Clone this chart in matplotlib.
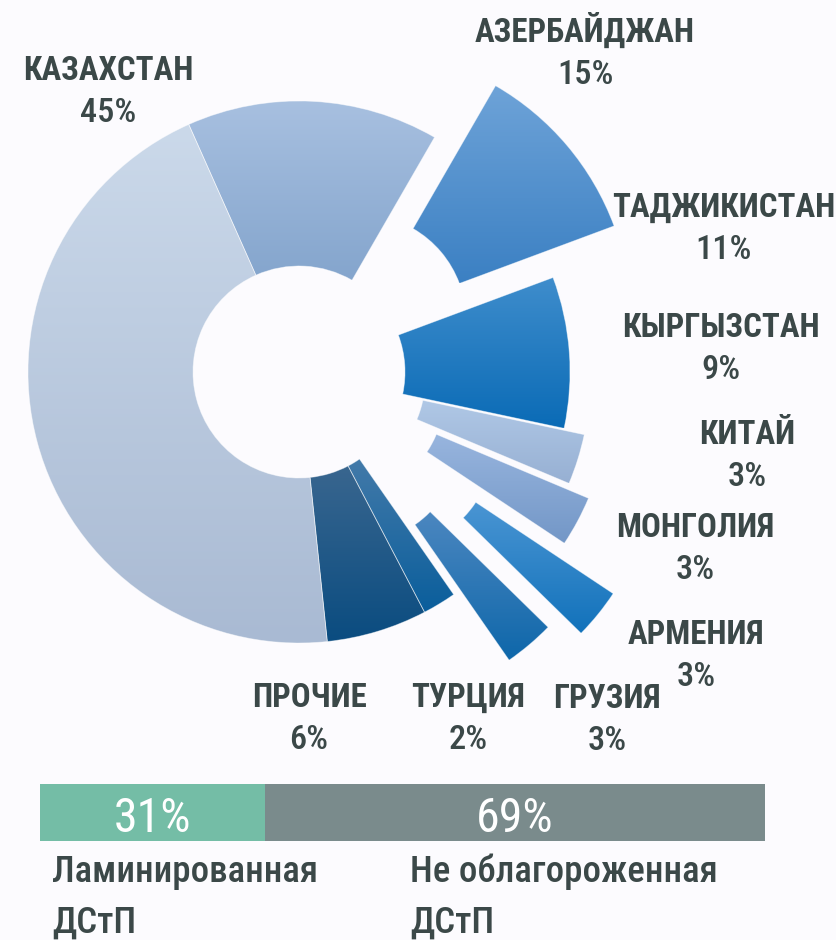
import numpy as np
import matplotlib
matplotlib.use('Agg')
import matplotlib.pyplot as plt
from matplotlib import font_manager
from matplotlib.font_manager import FontProperties
from matplotlib.ft2font import FT2Font
from matplotlib.textpath import TextPath
from matplotlib.colors import to_rgb

W, H = 836, 940          # output size, px
BG = '#fcfbfe'
TXT = '#3b4848'

# pie data, clockwise from the Azerbaijan slice
countries = ['АЗЕРБАЙДЖАН', 'ТАДЖИКИСТАН', 'КЫРГЫЗСТАН', 'КИТАЙ', 'МОНГОЛИЯ',
             'АРМЕНИЯ', 'ГРУЗИЯ', 'ТУРЦИЯ', 'ПРОЧИЕ', 'КАЗАХСТАН']
shares = [15, 11, 9, 3, 3, 3, 3, 2, 6, 45]
explode = [0, 0.295, 0, 0.078, 0.166, 0.42, 0.317, 0, 0, 0]
top_colors = ['#a8c0e0', '#6ea3d8', '#3f8dcc', '#b0c8e6', '#98b5de',
              '#4a95d3', '#4c87c0', '#437aa9', '#39668f', '#cbd9ea']
bottom_colors = ['#84a5cd', '#3b80c3', '#0a6bb6', '#97b0d3', '#7397c7',
                 '#1272bb', '#0e67aa', '#0a5e9c', '#0a4c80', '#a9bad3']
# label anchors: centre x, baseline y of the name (px from top-left)
label_xy = [(585, 42), (724, 217), (721, 337), (747, 444), (695, 537),
            (696, 644), (607, 708), (468, 707), (309, 707), (108, 80)]

# board types bar
board_types = ['Ламинированная\nДСтП', 'Не облагороженная\nДСтП']
board_shares = [31, 69]
board_colors = ['#74bda6', '#7a8b8c']
board_label_x = [52, 410]


# --- font: the reference uses a narrow face, find the closest installed one
SKIP = ('Mono', 'Serif', 'CJK', 'Math', 'Symbol', 'Emoji', 'Display')


def shape(fname):
	ext = TextPath((0, 0), 'КАЗАХСТАН', size=100, prop=FontProperties(fname=fname)).get_extents()
	return ext.width / ext.height, ext.height / 100


def has_cyrillic(fname):
	try:
		return FT2Font(fname).get_char_index(ord('Ж')) != 0
	except Exception:
		return False


def weight_of(f):
	return int(font_manager.weight_dict.get(f.weight, f.weight))


faces = [f for f in font_manager.fontManager.ttflist
         if f.style == 'normal' and not any(s in f.name for s in SKIP)
         and f.fname.lower().endswith(('.ttf', '.otf'))]
best = None
for f in faces:
	if weight_of(f) < 600 or not has_cyrillic(f.fname):
		continue
	ratio, cap = shape(f.fname)
	d = abs(ratio - 6.95)        # КАЗАХСТАН: 162 px wide, 23 px caps
	if best is None or d < best[0]:
		best = (d, f)
family = [f for f in faces if f.name == best[1].name]
FACE = {wt: min(family, key=lambda f: abs(weight_of(f) - wt)).fname
        for wt in (400, 500, 700)}
CAP = {fn: shape(fn)[1] for fn in set(FACE.values())}


def fp(cap_px, weight=500):
	fname = FACE[weight]
	return FontProperties(fname=fname, size=cap_px * 0.72 / CAP[fname])


def px(x, y):
	return x / W, 1 - y / H


fig = plt.figure(figsize=(W / 100, H / 100), dpi=100, facecolor=BG)
ax = fig.add_axes([0, 0, 1, 1])
ax.set_facecolor(BG)

cx, cy, R = 299, 372, 271   # pie centre and outer radius in px
wedges, _ = ax.pie(shares, explode=explode, startangle=114, counterclock=False,
                   radius=1, wedgeprops=dict(width=165 / R, linewidth=0))

# vertical gradient in every slice
for w, c_top, c_bot in zip(wedges, top_colors, bottom_colors):
	ext = w.get_path().get_extents()
	grad = np.linspace(to_rgb(c_bot), to_rgb(c_top), 256)[:, None, :]
	im = ax.imshow(grad, extent=(ext.x0, ext.x1, ext.y0, ext.y1), origin='lower',
	               aspect='auto', interpolation='bilinear', zorder=1)
	im.set_clip_path(w)
	w.set_facecolor('none')
	w.set_edgecolor((1, 1, 1, 0.45))
	w.set_linewidth(0.6)
	w.set_zorder(2)

ax.set_xlim(-cx / R, (W - cx) / R)
ax.set_ylim(-(H - cy) / R, cy / R)
ax.set_aspect('equal')
ax.axis('off')

for name, s, (x, y) in zip(countries, shares, label_xy):
	fig.text(*px(x, y), name, ha='center', va='baseline', color=TXT,
	         fontproperties=fp(24, 700))
	fig.text(*px(x, y + 42), f'{s}%', ha='center', va='baseline', color=TXT,
	         fontproperties=fp(25, 500))

# stacked bar
bx = fig.add_axes([40 / W, (H - 841) / H, 725 / W, 57 / H])
left = 0
for s, c in zip(board_shares, board_colors):
	bx.barh(0, s, left=left, height=1, color=c, linewidth=0)
	bx.text(left + s / 2, 0.16, f'{s}%', transform=bx.get_xaxis_transform(),
	        ha='center', va='baseline', color='white', fontproperties=fp(35, 400))
	left += s
bx.set_xlim(0, sum(board_shares))
bx.set_ylim(-0.5, 0.5)
bx.axis('off')

for label, x in zip(board_types, board_label_x):
	for i, line in enumerate(label.split('\n')):
		fig.text(*px(x, 882 + i * 51), line, ha='left', va='baseline', color=TXT,
		         fontproperties=fp(27, 500))

fig.savefig('out.png', dpi=100, facecolor=BG)
